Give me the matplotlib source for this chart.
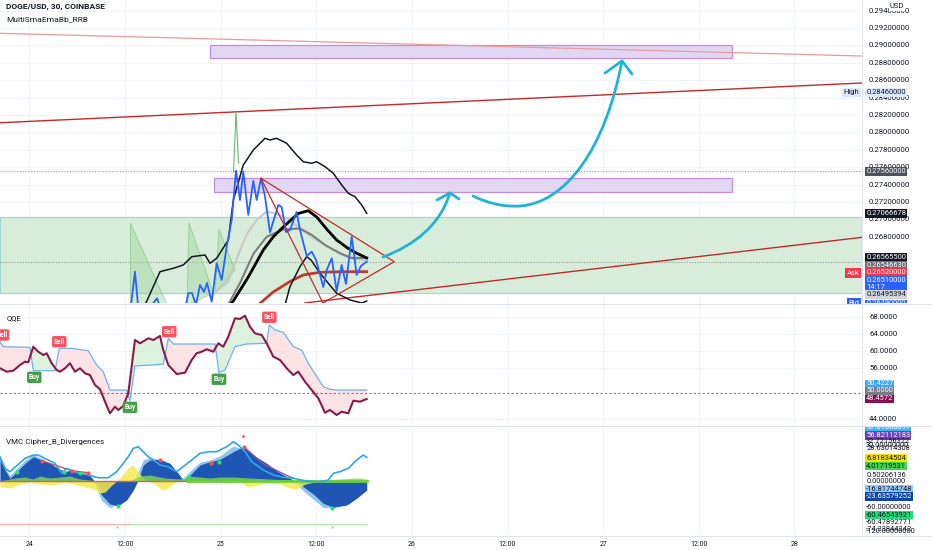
import numpy as np
import matplotlib
matplotlib.use('Agg')
import matplotlib.pyplot as plt
from matplotlib.path import Path
from matplotlib.patches import PathPatch, Rectangle, Polygon
from matplotlib.lines import Line2D

plt.rcParams['font.family'] = ['Roboto', 'DejaVu Sans']

# time axis = hours since the 24th 00:00 (30 min bars)
tick_t = [0, 12, 24, 36, 48, 60, 72, 84, 96]
tick_lab = ['24', '12:00', '25', '12:00', '26', '12:00', '27', '12:00', '28']

# ---------------- main pane (DOGE/USD) ----------------
price_t = [12.74, 13.24, 13.62, 14.87, 16.00, 16.50, 19.52, 19.93, 20.39, 20.90, 21.40, 21.90, 22.28, 22.87,
           23.49, 24.12, 24.75, 25.38, 25.92, 26.42, 26.83, 27.46, 28.09, 28.51, 29.05, 29.56, 30.18, 31.23,
           31.65, 32.19, 32.69, 33.53, 33.95, 34.79, 35.42, 35.96, 36.87, 37.30, 37.93, 38.55, 39.18, 39.72,
           40.44, 41.06, 41.60, 42.32]
price_v = [0.26015, 0.26398, 0.26015, 0.25958, 0.26092, 0.25958, 0.25958, 0.26150, 0.26153, 0.26015, 0.26245,
           0.26165, 0.26268, 0.26053, 0.26495, 0.26303, 0.26685, 0.26992, 0.27559, 0.27222, 0.27547, 0.27050,
           0.27441, 0.27222, 0.27472, 0.27260, 0.26849, 0.27165, 0.27142, 0.26854, 0.26877, 0.27084, 0.26877,
           0.26579, 0.26628, 0.26533, 0.26222, 0.26418, 0.26552, 0.26176, 0.26475, 0.26257, 0.26800, 0.26360,
           0.26464, 0.26513]

bbu_t = [14.50, 16.38, 18.05, 19.30, 20.36, 22.03, 22.65, 23.49, 24.95, 25.58, 26.83, 28.09, 29.56, 30.18,
         31.02, 32.28, 33.53, 34.36, 35.42, 36.04, 37.09, 38.13, 39.18, 40.01, 40.85, 41.69, 42.32]
bbu_v = [0.26015, 0.26398, 0.26437, 0.26475, 0.26570, 0.26590, 0.26495, 0.26552, 0.26762, 0.27222, 0.27624,
         0.27797, 0.27931, 0.27912, 0.27931, 0.27874, 0.27739, 0.27662, 0.27644, 0.27662, 0.27605, 0.27529,
         0.27395, 0.27299, 0.27260, 0.27165, 0.27069]
bbl_t = [32.07, 32.69, 33.95, 34.79, 35.33, 36.46, 37.50, 38.55, 40.22, 41.69, 42.32]
bbl_v = [0.26015, 0.26226, 0.26456, 0.26570, 0.26533, 0.26380, 0.26265, 0.26150, 0.26073, 0.26038, 0.26061]

ema_t = [25.16, 25.58, 27.46, 29.34, 30.60, 31.85, 33.73, 34.99, 36.04, 37.40, 38.55, 39.97, 41.06, 42.32]
ema_v = [0.26015, 0.26061, 0.26337, 0.26647, 0.26800, 0.26912, 0.27067, 0.27099, 0.27027, 0.26877, 0.26762,
         0.26667, 0.26610, 0.26556]
sma_t = [24.91, 26.42, 28.09, 29.77, 31.85, 33.95, 35.42, 37.09, 38.97, 40.44, 42.32]
sma_v = [0.26015, 0.26268, 0.26602, 0.26800, 0.26883, 0.26895, 0.26820, 0.26705, 0.26610, 0.26556, 0.26556]
sml_t = [23.07, 24.91, 26.42, 27.30, 28.51, 29.77, 31.02, 32.28, 34.16, 36.04, 38.13, 40.22, 42.32]
sml_v = [0.26142, 0.26280, 0.26647, 0.26831, 0.26992, 0.27090, 0.27061, 0.27015, 0.26877, 0.26762, 0.26647,
         0.26550, 0.26527]
red_t = [28.68, 30.60, 32.69, 34.36, 36.46, 38.97, 42.32]
red_v = [0.26015, 0.26165, 0.26285, 0.26360, 0.26391, 0.26397, 0.26398]

wickA_t = [12.61, 12.61, 17.22]
wickA_v = [0.26954, 0.26015, 0.26015]
wickB_t = [20.02, 19.77, 23.07]
wickB_v = [0.26961, 0.26015, 0.26150]
wickC_t = [23.78, 23.28, 25.79]
wickC_v = [0.26885, 0.26150, 0.26418]
spike_t = [25.60, 25.92, 26.23]
spike_v = [0.27544, 0.28237, 0.27647]

# drawings
zone_lo, zone_hi = 0.26149, 0.27023
box1 = (22.65, 88.16, 0.28851, 0.29007)
box2 = (23.15, 88.16, 0.27314, 0.27471)
trend_faint = [(-3.70, 0.29138), (104.48, 0.28877)]
trend_up = [(-3.70, 0.28110), (104.48, 0.28567)]
trend_low = [(41.48, 0.26113), (104.48, 0.26793)]
tri_t = [29.05, 45.78, 36.83]
tri_v = [0.27471, 0.26513, 0.26038]
arrow1_t = [44.36, 48.38, 51.52, 52.77]
arrow1_v = [0.26567, 0.26705, 0.26935, 0.27303]
head1_t = [51.14, 52.77, 53.90]
head1_v = [0.27222, 0.27303, 0.27234]
arrow2_t = [55.66, 57.79, 59.67, 61.56, 67.21, 72.23, 74.36]
arrow2_v = [0.27268, 0.27176, 0.27142, 0.27153, 0.27188, 0.27797, 0.28820]
head2_t = [72.23, 74.36, 75.62]
head2_v = [0.28682, 0.28820, 0.28670]
dotted_lv = [0.27560, 0.26510]
price_ticks = [0.268, 0.270, 0.272, 0.274, 0.276, 0.278, 0.280, 0.282, 0.284, 0.286, 0.288, 0.290, 0.292, 0.294]

# ---------------- QQE ----------------
qqe_t = [-3.70, -2.86, -2.03, -1.19, -0.56, -0.15, 0.48, 1.10, 1.73, 2.16, 2.79, 3.41, 3.83, 4.46, 5.08, 5.71,
         6.34, 6.97, 7.59, 8.22, 8.85, 9.48, 10.10, 10.73, 11.14, 11.77, 12.40, 13.24, 13.87, 14.91, 15.54,
         16.38, 16.79, 17.42, 18.47, 19.52, 20.36, 20.98, 21.61, 22.24, 23.07, 23.70, 24.32, 24.95, 25.79,
         26.42, 27.05, 27.67, 28.30, 29.14, 29.77, 30.60, 31.44, 32.28, 33.11, 33.74, 34.58, 35.42, 36.25,
         37.09, 37.72, 38.55, 39.18, 40.01, 40.64, 41.48, 42.32]
qqe_v = [55.89, 55.09, 55.32, 56.66, 57.44, 57.30, 60.96, 59.78, 59.01, 59.41, 57.06, 55.49, 55.09, 55.89,
         57.06, 55.09, 55.89, 54.71, 54.31, 51.97, 50.96, 48.05, 45.32, 46.87, 46.10, 47.04, 50.02, 62.53,
         61.76, 62.93, 62.53, 63.47, 60.18, 56.66, 54.55, 54.85, 57.84, 59.41, 59.78, 60.35, 59.78, 61.76,
         60.96, 63.31, 67.62, 67.46, 68.23, 65.65, 64.10, 63.70, 61.76, 58.61, 57.84, 55.89, 54.31, 55.09,
         52.74, 50.79, 48.85, 45.46, 46.10, 44.92, 45.70, 45.32, 48.28, 48.05, 48.68]
qtl_t = [-3.70, -3.29, 0.06, 0.48, 3.20, 3.74, 5.30, 7.38, 8.43, 9.26, 10.10, 12.20, 12.61, 13.24, 16.79,
         17.42, 18.05, 23.28, 23.78, 24.54, 25.79, 27.26, 29.77, 30.10, 30.81, 31.85, 33.11, 34.16, 34.99,
         36.87, 37.72, 38.55, 42.32]
qtl_v = [62.13, 60.96, 60.82, 55.32, 55.32, 60.58, 60.58, 60.02, 56.66, 55.09, 50.79, 50.79, 48.28, 56.43,
         56.83, 62.93, 61.59, 61.59, 54.85, 55.49, 60.96, 61.59, 61.76, 66.05, 64.88, 64.34, 60.96, 60.18,
         57.06, 51.57, 50.96, 50.79, 50.79]
sig_t = [-3.45, 0.60, 3.74, 12.61, 17.54, 23.78, 30.10]
sig_v = [63.7, 53.77, 62.13, 46.73, 64.48, 53.31, 67.86]
sig_kind = ['Sell', 'Buy', 'Sell', 'Buy', 'Sell', 'Buy', 'Sell']
qqe_ticks = [44, 56, 60, 64, 68]

# ---------------- VMC Cipher B ----------------
wt_t = [-3.70, -3.07, -2.45, -1.61, -0.56, 0.48, 1.53, 2.57, 3.61, 4.46, 5.30, 6.34, 7.38, 8.22, 9.06, 10.10,
        11.14, 12.20, 13.03, 13.65, 14.28, 15.12, 16.38, 17.63, 18.67, 19.30, 20.14, 21.40, 22.65, 23.91,
        25.58, 26.83, 28.09, 29.77, 31.22, 32.69, 33.53, 34.36, 35.62, 36.87, 38.13, 39.81, 41.06, 42.32]
wt2_v = [32.4, 15.7, 3.9, 13.3, 25.3, 34.7, 30.0, 25.3, 18.1, 13.3, 15.7, 11.0, 11.0, -1.0, -20.0, -32.9,
         -35.3, -27.1, -12.9, 1.4, 22.9, 30.0, 31.0, 25.3, 11.0, 1.4, 8.6, 22.9, 27.6, 31.0, 41.9, 49.0, 37.1,
         25.3, 13.3, 3.9, -1.0, -8.1, -18.6, -31.9, -37.6, -34.3, -24.7, -12.9]
wt1_v = [36, 18, 8, 18, 30, 38, 32, 26, 16, 14, 16, 10, 8, -6, -28, -38, -33, -20, -2, 14, 30, 34, 30, 20, 6,
         4, 14, 27, 30, 36, 50, 46, 34, 22, 10, 0, -5, -14, -26, -38, -38, -30, -18, -8]
rsi_t = [-3.70, -3.07, -2.45, -0.56, 0.48, 1.10, 2.16, 3.20, 4.04, 4.67, 5.92, 7.38, 8.63, 9.89, 10.94, 11.77,
         12.40, 13.03, 13.65, 14.28, 14.91, 15.54, 16.38, 17.42, 18.47, 20.36, 21.40, 22.44, 23.49, 24.75,
         25.58, 26.20, 27.05, 27.89, 29.34, 30.60, 31.85, 33.11, 34.79, 36.46, 37.50, 38.13, 38.97, 40.01,
         41.06, 41.89, 42.32]
rsi_v = [34.7, 18.1, 13.3, 32.4, 37.1, 37.1, 31.0, 25.3, 11.0, 18.1, 11.9, 8.6, 4.7, 4.7, 13.3, 25.3, 34.7,
         46.7, 49.0, 41.9, 34.7, 30.0, 22.9, 20.4, 13.3, 30.0, 39.6, 41.9, 41.9, 49.0, 56.1, 51.4, 41.9, 27.6,
         15.7, 8.6, 5.3, 3.9, 0.0, -1.0, 1.4, 11.0, 13.3, 18.1, 30.0, 37.1, 33.9]
ylw_t = [-3.70, -2.45, -1.19, 0.06, 1.32, 3.20, 4.46, 6.34, 7.59, 8.22, 8.85, 9.48, 10.35, 11.36, 12.36, 12.99,
         13.62, 14.50, 15.75, 16.63, 17.38, 18.26, 20.14, 21.40, 23.28, 24.54, 26.42, 27.42, 28.30, 29.56,
         31.44, 32.69, 33.57, 34.58, 35.83, 37.72, 39.60, 40.85, 41.73, 42.36]
ylw_v = [-8, -10, -5, -1.4, -4.3, -5.7, -1.4, -7.1, -10, -12.9, -17.1, -15.7, -5.7, 4.3, 18.6, 22.9, 12.9, 1.4,
         -4.3, -12.9, -10, -1.4, 0, -2.9, 1.4, -2.9, -1.4, -8.6, -7.1, -2.9, -4.3, -10, -11.4, -4.3, -1.4, 0, 0,
         2.9, 4.3, 0]
grn_t = [-3.70, -1.82, -0.56, 0.44, 1.32, 2.57, 3.83, 5.08, 6.34, 7.59, 8.22, 12.61, 13.87, 15.12, 17.01, 18.89,
         20.14, 21.40, 22.65, 23.91, 25.79, 27.67, 30.18, 32.69, 33.95, 36.46, 38.97, 40.85, 42.36]
grn_v = [0, 4.3, 5.7, 2.9, 7.1, 4.3, 5.7, 7.1, 2.9, 1.4, 0, 0, 7.1, 8.6, 4.3, 2.9, 7.1, 5.7, 4.3, 5.7, 5.7, 4.3,
         2.9, 1.4, 0, 1.4, 2.9, 4.3, 2.9]
rdot_t = [1.53, 5.30, 7.38, 16.38, 22.74, 26.92]
rdot_v = [29.0, 14.7, 11.9, 30.0, 26.1, 49.0]
gdot_t = [-1.53, 4.33, 6.34, 11.14, 20.06, 23.78, 38.00]
gdot_v = [12.4, 12.4, 11.0, -35.3, 6.1, 27.6, -39.0]
div_t = [26.92, 29.3, 31.4, 33.1]
div_v = [49.0, 25.0, 13.0, 3.9]

W, H = 932, 550
fig = plt.figure(figsize=(W / 100, H / 100), dpi=100)


def rect(x0, y0, x1, y1):
    return [x0 / W, 1 - y1 / H, (x1 - x0) / W, (y1 - y0) / H]


ax = fig.add_axes(rect(0, 0, 862, 303))
axq = fig.add_axes(rect(0, 304, 862, 425), sharex=ax)
axv = fig.add_axes(rect(0, 426, 862, 535), sharex=ax)
sax = fig.add_axes(rect(862, 0, 932, 303), sharey=ax)
saq = fig.add_axes(rect(862, 304, 932, 425), sharey=axq)
sav = fig.add_axes(rect(862, 426, 932, 535), sharey=axv)

grid_c = '#f0f3fa'
for a in (ax, axq, axv):
    for s in a.spines.values():
        s.set_visible(False)
    a.set_xticks(tick_t)
    a.grid(axis='x', color=grid_c, lw=0.8)
    a.tick_params(length=0, labelleft=False, labelbottom=False)
    a.set_axisbelow(True)
ax.set_xlim(-3.70, 104.48)
axv.tick_params(labelbottom=True, labelsize=5, labelcolor='#131722', pad=4)
axv.set_xticklabels(tick_lab)

# main pane
ax.set_ylim(0.26038, 0.29521)
ax.set_yticks(price_ticks)
ax.grid(axis='y', color=grid_c, lw=0.8)
ax.axhspan(zone_lo, zone_hi, fc='#d7edd9', ec='#9fd9d3', lw=0.9, zorder=1)
for b in (box1, box2):
    ax.add_patch(Rectangle((b[0], b[2]), b[1] - b[0], b[3] - b[2], fc='#e2d7f3', ec='#c38cdc', lw=0.9, zorder=2))
for lv in dotted_lv:
    ax.axhline(lv, color='#9598a1', ls=(0, (1, 1.5)), lw=0.8, zorder=2)
ax.axline(trend_faint[0], trend_faint[1], color='#e99a9a', lw=0.9, zorder=3)
ax.axline(trend_up[0], trend_up[1], color='#c62828', lw=1.0, zorder=3)
ax.axline(trend_low[0], trend_low[1], color='#c62828', lw=1.0, zorder=3)
for wt, wv in ((wickA_t, wickA_v), (wickB_t, wickB_v), (wickC_t, wickC_v)):
    ax.add_patch(Polygon(list(zip(wt, wv)), closed=True, fc='#9ed69c', alpha=0.45, ec='#5cb85c', lw=0.7, zorder=3))
ax.plot(spike_t, spike_v, color='#66bb6a', lw=0.8, zorder=3)
ax.plot(sml_t, sml_v, color='#c8c8c8', lw=1.5, zorder=4)
ax.plot(sma_t, sma_v, color='#7d7d7d', lw=1.5, zorder=4)
ax.plot(red_t, red_v, color='#c0392b', lw=2.0, zorder=4)
ax.plot(bbu_t, bbu_v, color='#131722', lw=1.1, zorder=5)
ax.plot(bbl_t, bbl_v, color='#131722', lw=1.1, zorder=5)
ax.plot(ema_t, ema_v, color='#000000', lw=2.0, zorder=5)
ax.plot(price_t, price_v, color='#2962ff', lw=1.3, zorder=6)
ax.plot(tri_t + [tri_t[0]], tri_v + [tri_v[0]], color='#c62828', lw=0.9, zorder=6)

cyan = '#1fb3d6'
P = Path(list(zip(arrow1_t, arrow1_v)), [Path.MOVETO, Path.CURVE4, Path.CURVE4, Path.CURVE4])
ax.add_patch(PathPatch(P, fc='none', ec=cyan, lw=2.0, capstyle='round', zorder=7))
P = Path(list(zip(arrow2_t, arrow2_v)), [Path.MOVETO] + [Path.CURVE4] * 6)
ax.add_patch(PathPatch(P, fc='none', ec=cyan, lw=2.0, capstyle='round', zorder=7))
ax.plot(head1_t, head1_v, color=cyan, lw=2.0, solid_capstyle='round', zorder=7)
ax.plot(head2_t, head2_v, color=cyan, lw=2.0, solid_capstyle='round', zorder=7)

ax.text(0.007, 0.977, 'DOGE/USD, 30, COINBASE', transform=ax.transAxes, fontsize=6, fontweight='bold',
        color='#131722', va='center')
ax.text(0.007, 0.937, 'MultiSmaEmaBb_RRB', transform=ax.transAxes, fontsize=6, color='#131722', va='center')
for lab, yf, bg, fg in (('High', 0.695, '#dce9fb', '#131722'), ('Ask', 0.100, '#f23645', 'white'),
                        ('Bid', 0.0, '#2962ff', 'white')):
    ax.text(0.997, yf, lab, transform=ax.transAxes, fontsize=5.5, color=fg, ha='right', va='center',
            bbox=dict(boxstyle='square,pad=0.25', fc=bg, ec='none'), zorder=9)

# QQE pane
axq.set_ylim(42.58, 70.98)
axq.set_yticks(qqe_ticks)
axq.grid(axis='y', color=grid_c, lw=0.8)
xs = np.linspace(qqe_t[0], qqe_t[-1], 800)
m = np.interp(xs, qqe_t, qqe_v)
b = np.interp(xs, qtl_t, qtl_v)
axq.fill_between(xs, m, b, where=m >= b, color='#d5eed8', alpha=0.8, lw=0, interpolate=True)
axq.fill_between(xs, m, b, where=m < b, color='#fbdde0', alpha=0.8, lw=0, interpolate=True)
axq.axhline(50, color='#787b86', ls=(0, (2, 2)), lw=0.8)
axq.plot(qtl_t, qtl_v, color='#6cb2ea', lw=0.9)
axq.plot(qqe_t, qqe_v, color='#8b1a4a', lw=1.5)
for t, v, k in zip(sig_t, sig_v, sig_kind):
    c = '#f7525f' if k == 'Sell' else '#43a047'
    axq.text(t, v, k, fontsize=4.8, color='white', fontweight='bold', ha='center', va='center',
             bbox=dict(boxstyle='round,pad=0.25,rounding_size=0.25', fc=c, ec='none'), clip_on=True)
axq.text(0.008, 0.885, 'QQE', transform=axq.transAxes, fontsize=5.5, color='#131722', va='center')

# VMC pane
axv.set_ylim(-77.1, 78.6)
wt1 = np.array(wt1_v)
wt2 = np.array(wt2_v)
axv.fill_between(wt_t, 0, wt1, color='#8ec5f2', lw=0)
axv.fill_between(wt_t, 0, wt2, color='#1f56b3', lw=0)
yv = np.array(ylw_v)
axv.fill_between(ylw_t, 0, yv, color='#f5e94f', alpha=0.85, lw=0)
axv.fill_between(grn_t, 0, grn_v, color='#7ed957', alpha=0.8, lw=0)
axv.plot([-3.70, 19.8], [0, 0], color='#e06040', lw=1.0)
axv.plot([19.8, 42.36], [0, 0], color='#6ccf3b', lw=2.0)
axv.plot([-3.70, 12.61], [-61, -61], color='#f4b2b0', lw=0.9)
axv.plot([12.61, 42.36], [-61, -61], color='#b2eba6', lw=0.9)
axv.plot(div_t, div_v, color='#9c4f9c', lw=0.9)
axv.plot(rdot_t[:3], rdot_v[:3], color='#d84040', lw=0.9)
axv.plot(rsi_t, rsi_v, color='#2ea6ea', lw=1.2)
axv.plot(rdot_t, rdot_v, 'o', color='#f05454', ms=3, mec='none')
axv.plot(gdot_t, gdot_v, 'o', color='#2ee06a', ms=3, mec='none')
axv.plot([26.83], [64.7], 'o', color='#f05454', ms=2, mec='none')
axv.plot([11.02, 38.00], [-65.3, -65.3], 's', color='#7ee07e', ms=1.5, mec='none')
axv.text(0.007, 0.85, 'VMC Cipher_B_Divergences', transform=axv.transAxes, fontsize=5.8, color='#131722',
         va='center')

# price scales
for s in (sax, saq, sav):
    s.set_xlim(0, 1)
    s.axis('off')
    s.axvline(0, color='#e0e3eb', lw=0.8)


def tag(a, yf, txt, bg=None, fg='#131722', x=0.06):
    kw = dict(transform=a.transAxes, fontsize=5.4, color=fg, ha='left', va='center', zorder=5,
              linespacing=1.0)
    if bg:
        kw['bbox'] = dict(boxstyle='square,pad=0.12', fc=bg, ec='none')
    t = a.text(x, yf, txt, **kw)
    t.set_clip_on(True)
    t.set_clip_path(a.patch)


for v in price_ticks:
    sax.text(0.1, v, f'{v:.8f}', fontsize=5.6, color='#131722', va='center')
tag(sax, 0.977, 'USD', '#ffffff', x=0.4)
tag(sax, 0.695, '0.28460000', '#dce9fb')
tag(sax, 0.433, '0.27560000', '#4c525e', 'white')
tag(sax, 0.296, '0.27066678', '#131722', 'white')
tag(sax, 0.150, '0.26565500', '#131722', 'white')
tag(sax, 0.125, '0.26546630', '#6a6d78', 'white')
tag(sax, 0.100, '0.26520000', '#f23645', 'white')
tag(sax, 0.062, '0.26510000\n14:17', '#2962ff', 'white')
tag(sax, 0.027, '0.26495394', '#d1d4dc')
tag(sax, -0.003, '0.26490000', '#2962ff', 'white')

for v in qqe_ticks:
    saq.text(0.1, v, f'{v:.4f}', fontsize=5.6, color='#131722', va='center')
tag(saq, 0.339, '50.4227', '#42a5f5', 'white')
tag(saq, 0.281, '50.0000', '#787b86', 'white')
tag(saq, 0.215, '48.4572', '#880e4f', 'white')

vmc_tags = [(0.988, '57.01660697', '#3db5f0', 'white'), (0.911, '56.82112183', '#6f3fc0', 'white'),
            (0.858, '32.72156322', None, '#131722'), (0.821, '30.00000000', None, '#131722'),
            (0.789, '28.63014308', None, '#131722'), (0.704, '6.81834504', '#f5e000', '#131722'),
            (0.633, '4.01719531', '#3fd64a', '#131722'), (0.550, '0.50206136', None, '#131722'),
            (0.489, '0.00000000', None, '#131722'), (0.422, '-16.81744748', '#90caf9', '#131722'),
            (0.351, '-23.63579252', '#0d47a1', 'white'), (0.254, '-60.00000000', None, '#131722'),
            (0.183, '-60.46543921', '#1ee07a', '#131722'), (0.113, '-60.47892771', None, '#131722'),
            (0.055, '-74.33844242', None, '#131722'), (0.032, '-120.00000000', None, '#131722')]
for yf, txt, bg, fg in vmc_tags:
    tag(sav, yf, txt, bg, fg)

for y in (303.5, 425.5, 535.5):
    fig.add_artist(Line2D([0, 1], [1 - y / H, 1 - y / H], transform=fig.transFigure, color='#e0e3eb', lw=0.8))

fig.savefig('out.png', dpi=100, facecolor='white')
